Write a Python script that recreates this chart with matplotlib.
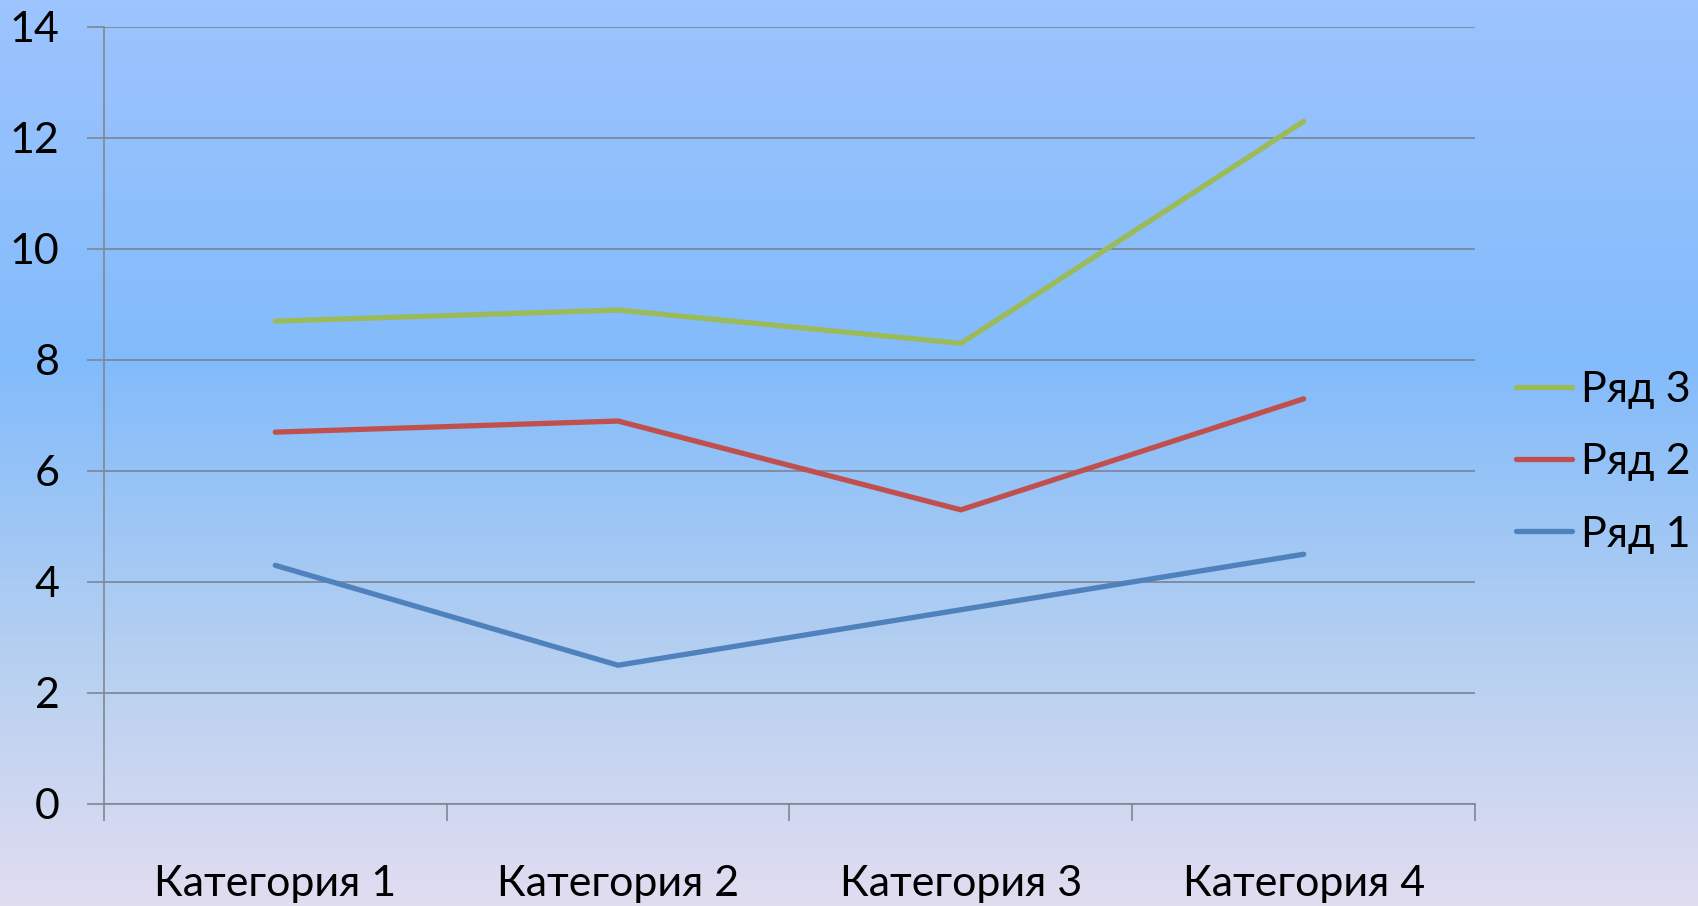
import numpy as np
import matplotlib
matplotlib.use("Agg")
import matplotlib.pyplot as plt
from matplotlib.colors import LinearSegmentedColormap

# data (stacked line chart, values per series)
categories = ["Категория 1", "Категория 2", "Категория 3", "Категория 4"]
series_names = ["Ряд 1", "Ряд 2", "Ряд 3"]
row1 = [4.3, 2.5, 3.5, 4.5]
row2 = [2.4, 4.4, 1.8, 2.8]
row3 = [2.0, 2.0, 3.0, 5.0]
colors = ["#4f81bd", "#c0504d", "#9bbb59"]

plt.rcParams["font.family"] = ["Lato", "DejaVu Sans"]

fig = plt.figure(figsize=(16.98, 9.06), dpi=100)

# background gradient
bg = fig.add_axes([0, 0, 1, 1], zorder=-10)
bg_cmap = LinearSegmentedColormap.from_list(
    "bg", [(0.0, "#9dc4fe"), (0.40, "#82bbfb"), (0.75, "#b9d1f0"), (1.0, "#e1ddf0")])
bg.imshow(np.linspace(0, 1, 256).reshape(-1, 1), aspect="auto", cmap=bg_cmap,
          extent=[0, 1, 0, 1])
bg.axis("off")

ax = fig.add_axes([0.0612, 0.1126, 0.8075, 0.8576])
ax.patch.set_alpha(0)

stacked = np.cumsum([row1, row2, row3], axis=0)
x = np.arange(len(categories)) + 0.5
lines = []
for name, vals, c in zip(series_names, stacked, colors):
    ln, = ax.plot(x, vals, color=c, lw=3.8, label=name, solid_capstyle="round",
                  solid_joinstyle="miter", zorder=3)
    lines.append(ln)

ax.set_xlim(0, 4)
ax.set_ylim(0, 14)
ax.set_yticks(range(0, 15, 2))
ax.set_xticks(range(0, 5))
ax.set_xticklabels([])
ax.set_xticks(x, minor=True)
ax.set_xticklabels(categories, minor=True)
ax.tick_params(axis="x", which="minor", length=0, pad=44, labelsize=31)
ax.tick_params(axis="x", which="major", length=12, width=1.2, color="#7f8794")
ax.tick_params(axis="y", length=12, width=1.2, color="#7f8794", labelsize=31, pad=20)

ax.grid(axis="y", color="#7a8494", lw=1.2)
for s in ["top", "right"]:
    ax.spines[s].set_visible(False)
for s in ["left", "bottom"]:
    ax.spines[s].set_color("#7f8794")
    ax.spines[s].set_linewidth(1.2)

leg = fig.legend(lines[::-1], series_names[::-1], loc="center left",
                 bbox_to_anchor=(0.893, 0.49), bbox_transform=fig.transFigure,
                 frameon=False, fontsize=31, borderpad=0, borderaxespad=0,
                 handlelength=1.3, handletextpad=0.2, labelspacing=0.8)

fig.savefig("out.png", dpi=100)
